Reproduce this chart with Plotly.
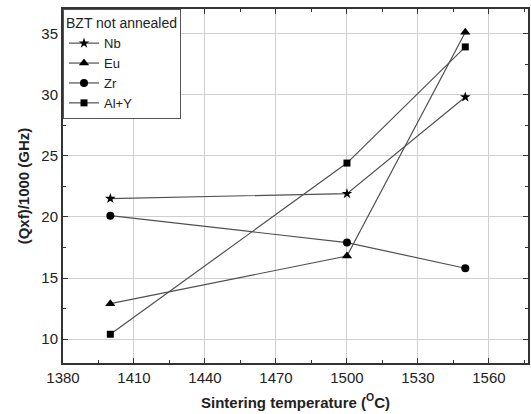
import plotly.graph_objects as go

# Sintering temperatures (°C) and Q×f/1000 (GHz) for each dopant
temperatures = [1400, 1500, 1550]
nb_values = [21.5, 21.9, 29.8]
eu_values = [12.9, 16.8, 35.1]
zr_values = [20.1, 17.9, 15.8]
aly_values = [10.4, 24.4, 33.9]

series = [
    ("Nb", nb_values, "star", 8),
    ("Eu", eu_values, "triangle-up", 9),
    ("Zr", zr_values, "circle", 8),
    ("Al+Y", aly_values, "square", 7),
]

fig = go.Figure()
for name, vals, symbol, size in series:
    fig.add_trace(go.Scatter(
        x=temperatures, y=vals, name=name, mode="lines+markers",
        line=dict(color="#505050", width=1.2),
        marker=dict(symbol=symbol, size=size, color="black"),
    ))

font_family = "Liberation Sans, Arial, sans-serif"
axis_common = dict(
    showline=True, linecolor="#333333", linewidth=2, mirror="ticks",
    ticks="inside", ticklen=5, tickcolor="#333333", tickwidth=1,
    showgrid=True, gridcolor="#cfcfcf", gridwidth=1, zeroline=False,
    tickfont=dict(size=15, color="#222222", family=font_family),
)

fig.update_layout(
    width=531, height=414,
    margin=dict(l=63, r=1, t=9, b=51),
    paper_bgcolor="white", plot_bgcolor="white",
    font=dict(family=font_family, color="#222222"),
    showlegend=True,
    legend=dict(
        title=dict(text="BZT not annealed", font=dict(size=14)),
        x=0, y=1, xanchor="left", yanchor="top",
        bgcolor="white", bordercolor="#555555", borderwidth=1,
        font=dict(size=13), tracegroupgap=0, itemwidth=30,
    ),
    xaxis=dict(
        range=[1380, 1576.5], tickvals=[1380, 1410, 1440, 1470, 1500, 1530, 1560],
        minor=dict(ticks="inside", ticklen=3, dtick=15, tickcolor="#333333", showgrid=False),
        title=dict(text="<b>Sintering temperature (<sup>O</sup>C)</b>", font=dict(size=15), standoff=12),
        **axis_common,
    ),
    yaxis=dict(
        range=[8.05, 37], tickvals=[10, 15, 20, 25, 30, 35],
        minor=dict(ticks="inside", ticklen=3, dtick=2.5, tickcolor="#333333", showgrid=False),
        title=dict(text="<b>(Qxf)/1000 (GHz)</b>", font=dict(size=15), standoff=8),
        **axis_common,
    ),
)

fig.write_html("out.html")
